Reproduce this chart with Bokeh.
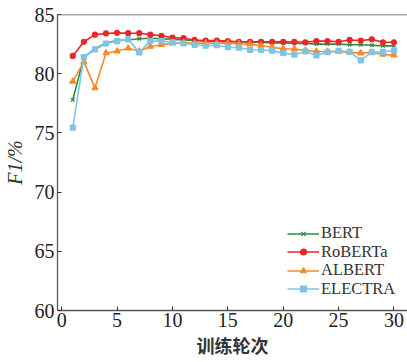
from bokeh.plotting import figure
from bokeh.models import Span, FixedTicker, Legend
from bokeh.embed import file_html
from bokeh.resources import INLINE

epochs = list(range(1, 31))
bert = [77.8, 81.4, 82.1, 82.6, 82.8, 82.85, 82.95, 83.0, 82.95, 82.9,
        82.85, 82.8, 82.75, 82.75, 82.7, 82.7, 82.65, 82.65, 82.6, 82.6,
        82.55, 82.55, 82.5, 82.5, 82.5, 82.45, 82.45, 82.4, 82.35, 82.35]
roberta = [81.5, 82.7, 83.3, 83.4, 83.45, 83.42, 83.42, 83.3, 83.2, 83.05,
           83.0, 82.85, 82.8, 82.8, 82.75, 82.7, 82.7, 82.7, 82.7, 82.7,
           82.7, 82.65, 82.75, 82.75, 82.7, 82.85, 82.8, 82.9, 82.65, 82.65]
albert = [79.35, 81.0, 78.8, 81.75, 81.9, 82.15, 81.9, 82.3, 82.45, 82.58,
          82.62, 82.58, 82.58, 82.58, 82.58, 82.52, 82.5, 82.38, 82.24, 82.1,
          82.08, 81.96, 81.88, 81.88, 81.86, 81.8, 81.74, 81.8, 81.63, 81.57]
electra = [75.45, 81.4, 82.05, 82.55, 82.75, 82.9, 81.8, 82.75, 82.75, 82.65,
           82.55, 82.44, 82.36, 82.41, 82.24, 82.2, 82.02, 82.0, 81.95, 81.74,
           81.6, 81.88, 81.54, 81.82, 81.93, 81.84, 81.12, 81.82, 81.85, 81.95]

series = [
    ("BERT", bert, "#2f8a3c", "x", 5),
    ("RoBERTa", roberta, "#e8262b", "circle", 5),
    ("ALBERT", albert, "#f5892c", "triangle", 6),
    ("ELECTRA", electra, "#7ec5e2", "square", 5),
]

x_ticks = [0, 5, 10, 15, 20, 25, 30]
y_ticks = [60, 65, 70, 75, 80, 85]

p = figure(width=407, height=362, output_backend="svg", toolbar_location=None,
           x_range=(-0.38, 31.22), y_range=(60, 85),
           min_border_left=53, min_border_right=0, min_border_top=14, min_border_bottom=52)
p.outline_line_color = None
p.grid.visible = False
p.background_fill_color = "white"

serif = "Liberation Serif"
for ax in (p.xaxis[0], p.yaxis[0]):
    ax.axis_line_color = "#555555"
    ax.axis_line_width = 1.3
    ax.major_tick_line_color = "#333333"
    ax.major_tick_in = 4
    ax.major_tick_out = 0
    ax.minor_tick_line_color = None
    ax.major_label_text_font = serif
    ax.major_label_text_font_size = "20px"
    ax.major_label_text_color = "#222222"

p.xaxis.ticker = FixedTicker(ticks=x_ticks)
p.yaxis.ticker = FixedTicker(ticks=y_ticks)
p.xaxis.major_label_standoff = 2
p.yaxis.major_label_standoff = 3

p.xaxis.axis_label = "训练轮次"
p.xaxis.axis_label_text_font = "Noto Sans CJK SC"
p.xaxis.axis_label_text_font_style = "bold"
p.xaxis.axis_label_text_font_size = "18px"
p.xaxis.axis_label_text_color = "#333333"
p.xaxis.axis_label_standoff = 2

p.yaxis.axis_label = "F1/%"
p.yaxis.axis_label_text_font = serif
p.yaxis.axis_label_text_font_style = "italic"
p.yaxis.axis_label_text_font_size = "20px"
p.yaxis.axis_label_text_color = "#333333"
p.yaxis.axis_label_standoff = 6

p.add_layout(Span(location=85, dimension="width", line_color="#555555", line_width=1.3))

legend_offsets = [67, 48.5, 30, 11.5]
for (name, vals, color, marker, size), off in zip(series, legend_offsets):
    r1 = p.line(epochs, vals, line_color=color, line_width=1.6)
    r2 = p.scatter(epochs, vals, marker=marker, size=size, fill_color=color,
                   line_color=color, line_width=1.2)
    lg = Legend(items=[(name, [r1, r2])], location=(230, off))
    lg.background_fill_alpha = 0
    lg.border_line_color = None
    lg.label_text_font = serif
    lg.label_text_font_size = "16.5px"
    lg.label_text_color = "#333333"
    lg.label_height = 15
    lg.glyph_height = 15
    lg.glyph_width = 32
    lg.spacing = 0
    lg.padding = 2
    lg.margin = 0
    lg.label_standoff = 2
    p.add_layout(lg)

open("out.html", "w").write(file_html(p, INLINE))
